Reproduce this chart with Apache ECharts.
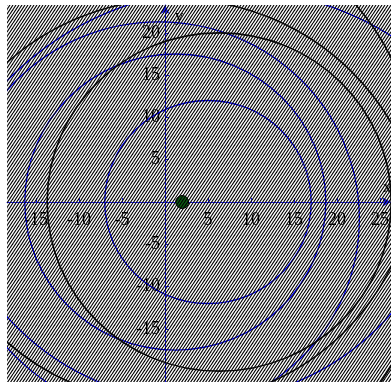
<!DOCTYPE html>
<html>
<head>
<meta charset="utf-8">
<script src="https://cdn.jsdelivr.net/npm/echarts@6/dist/echarts.min.js"></script>
<style>
html, body { margin: 0; padding: 0; background: #fff; }
#chart { width: 391px; height: 382px; }
</style>
</head>
<body>
<div id="chart"></div>
<script>
// tick values on the two axes (0 has no label)
const xTicks = [-15, -10, -5, 5, 10, 15, 20, 25];
const yTicks = [-15, -10, -5, 5, 10, 15, 20];
// the green point
const point = [[2, 0]];
// circles as [cx, cy, r]
const blueCircles = [[5, 0, 12], [1.2, 0, 17.5], [-0.7, -2, 23.3], [7.2, -10.3, 35.5], [3.8, 5.9, 29.5]];
const blackCircles = [[6.3, 0, 20], [1.1, -5, 29], [0.6, 4.7, 28.5]];

// steep diagonal hatch tile, laid over the whole plot
function hatchTile() {
    const c = document.createElement('canvas');
    c.width = 6; c.height = 9;
    const ctx = c.getContext('2d');
    ctx.strokeStyle = '#000';
    ctx.lineWidth = 1.15;
    for (let k = -9; k <= 12; k += 3) {
        ctx.beginPath();
        ctx.moveTo(k, 9);
        ctx.lineTo(k + 6, 0);
        ctx.stroke();
    }
    return c;
}

function circleItem(color, width) {
    return function (params, api) {
        const c = api.coord([api.value(0), api.value(1)]);
        const rx = api.size([api.value(2), 0])[0];
        const ry = api.size([0, api.value(2)])[1];
        return {
            type: 'ellipse',
            shape: { cx: c[0], cy: c[1], rx: rx, ry: ry },
            style: { fill: 'none', stroke: color, lineWidth: width }
        };
    };
}

const axisBlue = '#1f1fff';
const labelFont = { color: '#000', fontFamily: 'Liberation Serif', fontSize: 18 };

const chart = echarts.init(document.getElementById('chart'));
chart.setOption({
    animation: false,
    backgroundColor: '#fff',
    grid: { left: 7, top: 5, right: 0, bottom: 0, containLabel: false, outerBoundsMode: 'none' },
    xAxis: {
        type: 'value',
        min: -18.37, max: 26.28,
        position: 'bottom', offset: -180,
        name: 'x', nameLocation: 'end', nameGap: -8,
        nameTextStyle: { color: '#000', fontFamily: 'Liberation Serif', fontSize: 17, align: 'left', verticalAlign: 'bottom', padding: [0, 0, 6, 0] },
        axisLine: { onZero: false, symbol: ['none', 'arrow'], symbolSize: [7, 9], lineStyle: { color: axisBlue, width: 1 } },
        axisTick: { show: true, customValues: xTicks, length: 4, inside: true, lineStyle: { color: axisBlue } },
        axisLabel: Object.assign({ customValues: xTicks, margin: 9 }, labelFont),
        splitLine: { show: false }
    },
    yAxis: {
        type: 'value',
        min: -21.28, max: 23.29,
        position: 'left', offset: -158,
        name: 'y', nameLocation: 'end', nameGap: -20,
        nameTextStyle: { color: '#000', fontFamily: 'Liberation Serif', fontSize: 17, align: 'left', padding: [0, 0, 0, 10] },
        axisLine: { onZero: false, symbol: ['none', 'arrow'], symbolSize: [7, 9], lineStyle: { color: axisBlue, width: 1 } },
        axisTick: { show: true, customValues: yTicks, length: 4, inside: true, lineStyle: { color: axisBlue } },
        axisLabel: Object.assign({ customValues: yTicks, margin: 5 }, labelFont),
        splitLine: { show: false }
    },
    series: [
        { type: 'custom', data: blueCircles, renderItem: circleItem('#0000ff', 1.3), clip: true, z: 2 },
        { type: 'custom', data: blackCircles, renderItem: circleItem('#111', 1.6), clip: true, z: 2 },
        {
            type: 'scatter', data: point, symbolSize: 13, z: 5,
            itemStyle: { color: '#0a5e12', borderColor: '#000', borderWidth: 1, opacity: 1 }
        }
    ],
    graphic: [{
        type: 'rect', left: 7, top: 5, z: 100, silent: true,
        shape: { width: 384, height: 377 },
        style: { fill: { image: hatchTile(), repeat: 'repeat' } }
    }]
});
</script>
</body>
</html>
